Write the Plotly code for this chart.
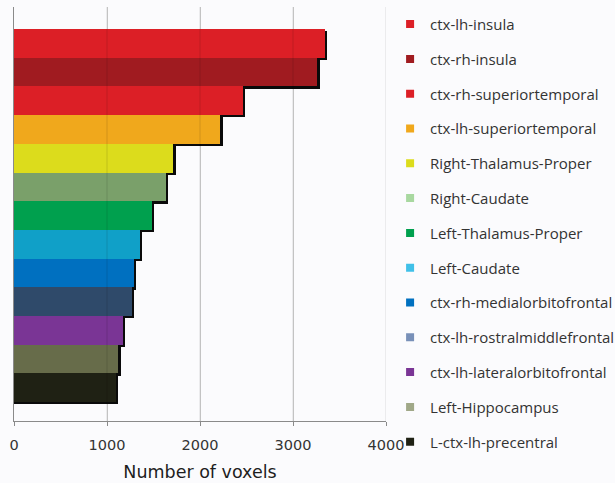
import plotly.graph_objects as go

# Regions ranked by voxel count
regions = [
    "ctx-lh-insula", "ctx-rh-insula", "ctx-rh-superiortemporal",
    "ctx-lh-superiortemporal", "Right-Thalamus-Proper", "Right-Caudate",
    "Left-Thalamus-Proper", "Left-Caudate", "ctx-rh-medialorbitofrontal",
    "ctx-lh-rostralmiddlefrontal", "ctx-lh-lateralorbitofrontal",
    "Left-Hippocampus", "L-ctx-lh-precentral",
]
voxels = [3340, 3260, 2460, 2220, 1710, 1630, 1480, 1350, 1285, 1265, 1170, 1120, 1095]

bar_colors = [
    "#dc1f26", "#a01b20", "#dc1f26", "#f0a81c", "#dcdc1c", "#7aa06a",
    "#00a04e", "#10a0c8", "#0070c0", "#2f4a6a", "#7a3595", "#676c4a", "#1f2114",
]
legend_colors = [
    "#dc1f26", "#a01b20", "#dc1f26", "#f0a81c", "#dcdc1c", "#a8d8a0",
    "#00a04e", "#40c0e8", "#0070c0", "#7890b8", "#7a3595", "#a0a888", "#1f2114",
]

x_ticks = [0, 1000, 2000, 3000, 4000]

pos = list(range(len(regions)))
fig = go.Figure()

# drop shadow behind each bar
fig.add_trace(go.Bar(
    y=pos, x=[v + 28 for v in voxels], orientation="h", width=1.0,
    offset=-0.42, marker=dict(color="#0a0a0a", line=dict(width=0)),
    showlegend=False, hoverinfo="skip",
))
fig.add_trace(go.Bar(
    y=pos, x=voxels, orientation="h", width=1.0,
    marker=dict(color=bar_colors, line=dict(width=0)),
    showlegend=False,
))

for i, (name, col) in enumerate(zip(regions, legend_colors)):
    fig.add_trace(go.Scatter(
        x=[None], y=[None], mode="markers", name=name,
        legendgroup=f"g{i}",
        marker=dict(symbol="square", size=8, color=col),
    ))

# faint grid lines visible across the bars
for t in x_ticks[1:]:
    fig.add_shape(type="line", x0=t, x1=t, y0=0, y1=1, xref="x", yref="paper",
                  line=dict(color="rgba(0,0,0,0.13)", width=1), layer="above")

fig.update_layout(
    width=615, height=483,
    margin=dict(l=14, r=229, t=7, b=62, autoexpand=False),
    paper_bgcolor="#fbfbfd", plot_bgcolor="#fbfbfd",
    barmode="overlay", bargap=0,
    font=dict(family="DejaVu Sans", color="#333333"),
    xaxis=dict(
        range=[0, 4000], tickvals=x_ticks, ticktext=[str(t) for t in x_ticks],
        showgrid=True, gridcolor="#d0d0d0", gridwidth=1,
        showline=True, linecolor="#8a8a8a", linewidth=1,
        ticks="outside", ticklen=4, tickcolor="#8a8a8a",
        ticklabelstandoff=7,
        tickfont=dict(size=14.5, color="#333333"),
        title=dict(text="Number of voxels", font=dict(size=17.5, color="#1e1e1e"), standoff=13),
        zeroline=False,
    ),
    yaxis=dict(
        range=[13.16, -1.27], showticklabels=False, showgrid=False,
        showline=True, linecolor="#8a8a8a", linewidth=1, zeroline=False,
    ),
    legend=dict(
        x=1.011, xanchor="left", y=0.998, yanchor="top",
        xref="paper", yref="paper", maxheight=483,
        font=dict(family="Open Sans", size=15, color="#333333"),
        tracegroupgap=12.3, itemwidth=30, bgcolor="rgba(0,0,0,0)",
    ),
)

fig.write_html("out.html")
